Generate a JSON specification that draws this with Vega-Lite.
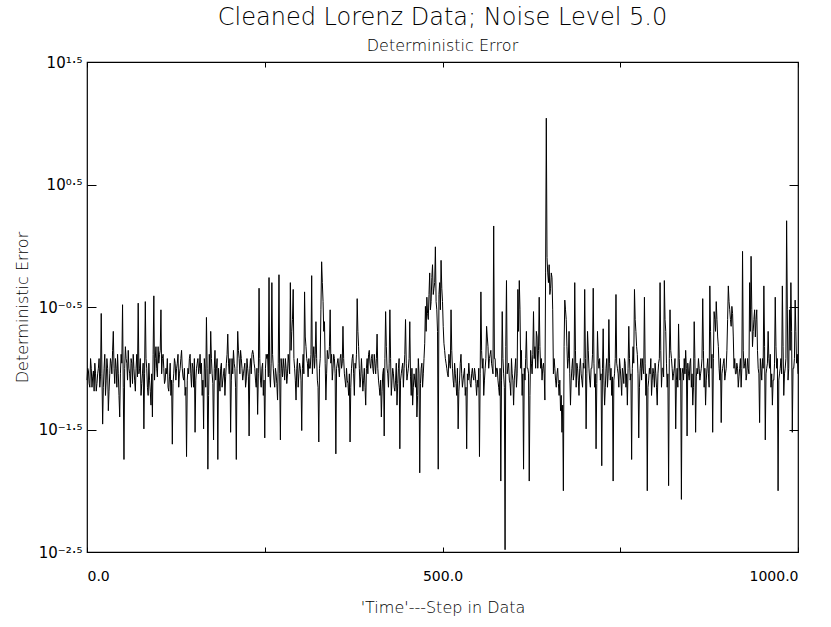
{
"$schema": "https://vega.github.io/schema/vega-lite/v6.json",
"width": 711, "height": 490,
"autosize": "none",
"padding": {"left": 87, "top": 62, "right": 33, "bottom": 75},
"background": "white",
"config": {"view": {"stroke": "black", "strokeWidth": 1.2}, "font": "DejaVu Sans"},
"title": {"text": "Cleaned Lorenz Data; Noise Level 5.0", "subtitle": "Deterministic Error", "anchor": "middle", "frame": "group", "fontSize": 24, "fontWeight": 300, "color": "black", "subtitleFontSize": 16, "subtitleFontWeight": 300, "subtitleColor": "black", "subtitlePadding": 8, "offset": 1},
"data": {"values": [
{"t":0,"e":0.08},{"t":2,"e":0.095},{"t":4,"e":0.07},{"t":6,"e":0.1},{"t":8,"e":0.085},{"t":10,"e":0.065},{"t":12,"e":0.09},{"t":14,"e":0.075},{"t":16,"e":0.1},{"t":18,"e":0.07},
{"t":20,"e":0.28},{"t":22,"e":0.035},{"t":24,"e":0.1},{"t":26,"e":0.06},{"t":28,"e":0.12},{"t":30,"e":0.045},{"t":32,"e":0.09},{"t":34,"e":0.11},{"t":36,"e":0.14},{"t":38,"e":0.1},
{"t":40,"e":0.12},{"t":42,"e":0.07},{"t":44,"e":0.09},{"t":46,"e":0.04},{"t":48,"e":0.13},{"t":50,"e":0.33},{"t":52,"e":0.018},{"t":54,"e":0.15},{"t":56,"e":0.11},{"t":58,"e":0.14},
{"t":60,"e":0.09},{"t":62,"e":0.12},{"t":64,"e":0.075},{"t":66,"e":0.1},{"t":68,"e":0.065},{"t":70,"e":0.13},{"t":72,"e":0.34},{"t":74,"e":0.1},{"t":76,"e":0.06},{"t":78,"e":0.09},
{"t":80,"e":0.032},{"t":82,"e":0.35},{"t":84,"e":0.1},{"t":86,"e":0.06},{"t":88,"e":0.08},{"t":90,"e":0.05},{"t":92,"e":0.04},{"t":94,"e":0.39},{"t":96,"e":0.12},{"t":98,"e":0.1},
{"t":100,"e":0.15},{"t":102,"e":0.13},{"t":104,"e":0.3},{"t":106,"e":0.12},{"t":108,"e":0.1},{"t":110,"e":0.08},{"t":112,"e":0.09},{"t":114,"e":0.07},{"t":116,"e":0.085},{"t":118,"e":0.06},
{"t":120,"e":0.024},{"t":122,"e":0.09},{"t":124,"e":0.11},{"t":126,"e":0.1},{"t":128,"e":0.13},{"t":130,"e":0.09},{"t":132,"e":0.12},{"t":134,"e":0.1},{"t":136,"e":0.08},{"t":138,"e":0.06},
{"t":140,"e":0.019},{"t":142,"e":0.1},{"t":144,"e":0.12},{"t":146,"e":0.09},{"t":148,"e":0.11},{"t":150,"e":0.07},{"t":152,"e":0.03},{"t":154,"e":0.1},{"t":156,"e":0.12},{"t":158,"e":0.1},
{"t":160,"e":0.09},{"t":162,"e":0.06},{"t":164,"e":0.032},{"t":166,"e":0.1},{"t":168,"e":0.26},{"t":170,"e":0.015},{"t":172,"e":0.13},{"t":174,"e":0.2},{"t":176,"e":0.09},{"t":178,"e":0.026},
{"t":180,"e":0.14},{"t":182,"e":0.1},{"t":184,"e":0.018},{"t":186,"e":0.08},{"t":188,"e":0.1},{"t":190,"e":0.07},{"t":192,"e":0.09},{"t":194,"e":0.06},{"t":196,"e":0.11},{"t":198,"e":0.19},
{"t":200,"e":0.09},{"t":202,"e":0.03},{"t":204,"e":0.12},{"t":206,"e":0.14},{"t":208,"e":0.1},{"t":210,"e":0.018},{"t":212,"e":0.2},{"t":214,"e":0.12},{"t":216,"e":0.14},{"t":218,"e":0.1},
{"t":220,"e":0.09},{"t":222,"e":0.11},{"t":224,"e":0.08},{"t":226,"e":0.1},{"t":228,"e":0.028},{"t":230,"e":0.12},{"t":232,"e":0.13},{"t":234,"e":0.13},{"t":236,"e":0.1},{"t":238,"e":0.07},
{"t":240,"e":0.042},{"t":242,"e":0.45},{"t":244,"e":0.08},{"t":246,"e":0.1},{"t":248,"e":0.06},{"t":250,"e":0.027},{"t":252,"e":0.13},{"t":254,"e":0.13},{"t":256,"e":0.55},{"t":258,"e":0.07},
{"t":260,"e":0.5},{"t":262,"e":0.1},{"t":264,"e":0.07},{"t":266,"e":0.09},{"t":268,"e":0.055},{"t":270,"e":0.58},{"t":272,"e":0.026},{"t":274,"e":0.1},{"t":276,"e":0.12},{"t":278,"e":0.08},
{"t":280,"e":0.1},{"t":282,"e":0.09},{"t":284,"e":0.11},{"t":286,"e":0.5},{"t":288,"e":0.2},{"t":290,"e":0.44},{"t":292,"e":0.1},{"t":294,"e":0.055},{"t":296,"e":0.12},{"t":298,"e":0.09},
{"t":300,"e":0.1},{"t":302,"e":0.031},{"t":304,"e":0.13},{"t":306,"e":0.42},{"t":308,"e":0.15},{"t":310,"e":0.11},{"t":312,"e":0.12},{"t":314,"e":0.1},{"t":316,"e":0.57},{"t":318,"e":0.12},
{"t":320,"e":0.1},{"t":322,"e":0.24},{"t":324,"e":0.08},{"t":326,"e":0.025},{"t":328,"e":0.12},{"t":330,"e":0.74},{"t":332,"e":0.35},{"t":334,"e":0.24},{"t":336,"e":0.055},{"t":338,"e":0.14},
{"t":340,"e":0.12},{"t":342,"e":0.3},{"t":344,"e":0.13},{"t":346,"e":0.1},{"t":348,"e":0.12},{"t":350,"e":0.02},{"t":352,"e":0.11},{"t":354,"e":0.1},{"t":356,"e":0.12},{"t":358,"e":0.1},
{"t":360,"e":0.22},{"t":362,"e":0.09},{"t":364,"e":0.07},{"t":366,"e":0.08},{"t":368,"e":0.06},{"t":370,"e":0.025},{"t":372,"e":0.1},{"t":374,"e":0.13},{"t":376,"e":0.06},{"t":378,"e":0.1},
{"t":380,"e":0.37},{"t":382,"e":0.15},{"t":384,"e":0.07},{"t":386,"e":0.12},{"t":388,"e":0.065},{"t":390,"e":0.1},{"t":392,"e":0.05},{"t":394,"e":0.12},{"t":396,"e":0.13},{"t":398,"e":0.11},
{"t":400,"e":0.12},{"t":402,"e":0.1},{"t":404,"e":0.13},{"t":406,"e":0.09},{"t":408,"e":0.19},{"t":410,"e":0.08},{"t":412,"e":0.06},{"t":414,"e":0.04},{"t":416,"e":0.09},{"t":418,"e":0.028},
{"t":420,"e":0.29},{"t":422,"e":0.1},{"t":424,"e":0.07},{"t":426,"e":0.3},{"t":428,"e":0.06},{"t":430,"e":0.1},{"t":432,"e":0.07},{"t":434,"e":0.08},{"t":436,"e":0.05},{"t":438,"e":0.1},
{"t":440,"e":0.022},{"t":442,"e":0.09},{"t":444,"e":0.11},{"t":446,"e":0.1},{"t":448,"e":0.25},{"t":450,"e":0.08},{"t":452,"e":0.1},{"t":454,"e":0.24},{"t":456,"e":0.06},{"t":458,"e":0.05},
{"t":460,"e":0.09},{"t":462,"e":0.07},{"t":464,"e":0.04},{"t":466,"e":0.12},{"t":468,"e":0.014},{"t":470,"e":0.1},{"t":472,"e":0.07},{"t":474,"e":0.12},{"t":476,"e":0.32},{"t":478,"e":0.38},
{"t":480,"e":0.25},{"t":482,"e":0.6},{"t":484,"e":0.35},{"t":486,"e":0.7},{"t":488,"e":0.45},{"t":490,"e":0.98},{"t":492,"e":0.3},{"t":494,"e":0.015},{"t":496,"e":0.5},{"t":498,"e":0.76},
{"t":500,"e":0.35},{"t":502,"e":0.16},{"t":504,"e":0.12},{"t":506,"e":0.1},{"t":508,"e":0.085},{"t":510,"e":0.11},{"t":512,"e":0.3},{"t":514,"e":0.1},{"t":516,"e":0.07},{"t":518,"e":0.09},
{"t":520,"e":0.06},{"t":522,"e":0.032},{"t":524,"e":0.08},{"t":526,"e":0.13},{"t":528,"e":0.07},{"t":530,"e":0.09},{"t":532,"e":0.06},{"t":534,"e":0.022},{"t":536,"e":0.08},{"t":538,"e":0.09},
{"t":540,"e":0.07},{"t":542,"e":0.1},{"t":544,"e":0.08},{"t":546,"e":0.09},{"t":548,"e":0.06},{"t":550,"e":0.07},{"t":552,"e":0.019},{"t":554,"e":0.42},{"t":556,"e":0.1},{"t":558,"e":0.06},
{"t":560,"e":0.1},{"t":562,"e":0.22},{"t":564,"e":0.15},{"t":566,"e":0.12},{"t":568,"e":0.14},{"t":570,"e":0.1},{"t":572,"e":1.45},{"t":574,"e":0.12},{"t":576,"e":0.1},{"t":578,"e":0.08},
{"t":580,"e":0.06},{"t":582,"e":0.012},{"t":584,"e":0.29},{"t":586,"e":0.09},{"t":588,"e":0.0033},{"t":590,"e":0.52},{"t":592,"e":0.1},{"t":594,"e":0.08},{"t":596,"e":0.06},{"t":598,"e":0.09},
{"t":600,"e":0.05},{"t":602,"e":0.1},{"t":604,"e":0.07},{"t":606,"e":0.44},{"t":608,"e":0.52},{"t":610,"e":0.1},{"t":612,"e":0.06},{"t":614,"e":0.015},{"t":616,"e":0.08},{"t":618,"e":0.2},
{"t":620,"e":0.1},{"t":622,"e":0.012},{"t":624,"e":0.14},{"t":626,"e":0.09},{"t":628,"e":0.29},{"t":630,"e":0.15},{"t":632,"e":0.2},{"t":634,"e":0.1},{"t":636,"e":0.38},{"t":638,"e":0.1},
{"t":640,"e":0.08},{"t":642,"e":0.11},{"t":644,"e":0.055},{"t":646,"e":11},{"t":648,"e":0.6},{"t":650,"e":0.7},{"t":652,"e":0.45},{"t":654,"e":0.55},{"t":656,"e":0.09},{"t":658,"e":0.1},
{"t":660,"e":0.07},{"t":662,"e":0.1},{"t":664,"e":0.06},{"t":666,"e":0.045},{"t":668,"e":0.03},{"t":670,"e":0.01},{"t":672,"e":0.36},{"t":674,"e":0.25},{"t":676,"e":0.1},{"t":678,"e":0.2},
{"t":680,"e":0.05},{"t":682,"e":0.1},{"t":684,"e":0.08},{"t":686,"e":0.5},{"t":688,"e":0.07},{"t":690,"e":0.1},{"t":692,"e":0.06},{"t":694,"e":0.12},{"t":696,"e":0.08},{"t":698,"e":0.11},
{"t":700,"e":0.44},{"t":702,"e":0.032},{"t":704,"e":0.2},{"t":706,"e":0.1},{"t":708,"e":0.07},{"t":710,"e":0.1},{"t":712,"e":0.45},{"t":714,"e":0.07},{"t":716,"e":0.022},{"t":718,"e":0.2},
{"t":720,"e":0.1},{"t":722,"e":0.08},{"t":724,"e":0.016},{"t":726,"e":0.21},{"t":728,"e":0.05},{"t":730,"e":0.1},{"t":732,"e":0.07},{"t":734,"e":0.25},{"t":736,"e":0.08},{"t":738,"e":0.06},
{"t":740,"e":0.012},{"t":742,"e":0.09},{"t":744,"e":0.4},{"t":746,"e":0.1},{"t":748,"e":0.07},{"t":750,"e":0.1},{"t":752,"e":0.06},{"t":754,"e":0.09},{"t":756,"e":0.12},{"t":758,"e":0.07},
{"t":760,"e":0.05},{"t":762,"e":0.22},{"t":764,"e":0.08},{"t":766,"e":0.018},{"t":768,"e":0.15},{"t":770,"e":0.44},{"t":772,"e":0.2},{"t":774,"e":0.13},{"t":776,"e":0.027},{"t":778,"e":0.1},
{"t":780,"e":0.08},{"t":782,"e":0.1},{"t":784,"e":0.38},{"t":786,"e":0.06},{"t":788,"e":0.01},{"t":790,"e":0.08},{"t":792,"e":0.09},{"t":794,"e":0.06},{"t":796,"e":0.1},{"t":798,"e":0.07},
{"t":800,"e":0.09},{"t":802,"e":0.05},{"t":804,"e":0.11},{"t":806,"e":0.5},{"t":808,"e":0.07},{"t":810,"e":0.1},{"t":812,"e":0.52},{"t":814,"e":0.2},{"t":816,"e":0.07},{"t":818,"e":0.011},
{"t":820,"e":0.3},{"t":822,"e":0.12},{"t":824,"e":0.08},{"t":826,"e":0.1},{"t":828,"e":0.032},{"t":830,"e":0.1},{"t":832,"e":0.23},{"t":834,"e":0.08},{"t":836,"e":0.0085},{"t":838,"e":0.1},
{"t":840,"e":0.12},{"t":842,"e":0.14},{"t":844,"e":0.028},{"t":846,"e":0.09},{"t":848,"e":0.11},{"t":850,"e":0.07},{"t":852,"e":0.05},{"t":854,"e":0.24},{"t":856,"e":0.03},{"t":858,"e":0.1},
{"t":860,"e":0.12},{"t":862,"e":0.08},{"t":864,"e":0.1},{"t":866,"e":0.37},{"t":868,"e":0.07},{"t":870,"e":0.05},{"t":872,"e":0.1},{"t":874,"e":0.09},{"t":876,"e":0.47},{"t":878,"e":0.1},
{"t":880,"e":0.03},{"t":882,"e":0.29},{"t":884,"e":0.2},{"t":886,"e":0.25},{"t":888,"e":0.15},{"t":890,"e":0.08},{"t":892,"e":0.036},{"t":894,"e":0.1},{"t":896,"e":0.12},{"t":898,"e":0.09},
{"t":900,"e":0.14},{"t":902,"e":0.47},{"t":904,"e":0.3},{"t":906,"e":0.22},{"t":908,"e":0.28},{"t":910,"e":0.1},{"t":912,"e":0.09},{"t":914,"e":0.11},{"t":916,"e":0.07},{"t":918,"e":0.1},
{"t":920,"e":0.07},{"t":922,"e":0.9},{"t":924,"e":0.1},{"t":926,"e":0.12},{"t":928,"e":0.09},{"t":930,"e":0.1},{"t":932,"e":0.5},{"t":934,"e":0.82},{"t":936,"e":0.15},{"t":938,"e":0.25},
{"t":940,"e":0.18},{"t":942,"e":0.3},{"t":944,"e":0.1},{"t":946,"e":0.036},{"t":948,"e":0.1},{"t":950,"e":0.12},{"t":952,"e":0.47},{"t":954,"e":0.026},{"t":956,"e":0.1},{"t":958,"e":0.2},
{"t":960,"e":0.1},{"t":962,"e":0.07},{"t":964,"e":0.05},{"t":966,"e":0.08},{"t":968,"e":0.38},{"t":970,"e":0.1},{"t":972,"e":0.01},{"t":974,"e":0.09},{"t":976,"e":0.12},{"t":978,"e":0.47},
{"t":980,"e":0.06},{"t":982,"e":0.1},{"t":984,"e":1.6},{"t":986,"e":0.08},{"t":988,"e":0.3},{"t":990,"e":0.5},{"t":992,"e":0.03},{"t":994,"e":0.1},{"t":996,"e":0.36},{"t":998,"e":0.11},{"t":1000,"e":0.09},
{"t":1,"e":0.1},{"t":3,"e":0.075},{"t":5,"e":0.12},{"t":7,"e":0.07},{"t":9,"e":0.095},{"t":11,"e":0.11},{"t":13,"e":0.065},{"t":15,"e":0.09},{"t":17,"e":0.12},{"t":19,"e":0.085},
{"t":21,"e":0.09},{"t":23,"e":0.07},{"t":25,"e":0.13},{"t":27,"e":0.08},{"t":29,"e":0.1},{"t":31,"e":0.065},{"t":33,"e":0.12},{"t":35,"e":0.09},{"t":37,"e":0.2},{"t":39,"e":0.075},
{"t":41,"e":0.1},{"t":43,"e":0.13},{"t":45,"e":0.06},{"t":47,"e":0.09},{"t":49,"e":0.11},{"t":51,"e":0.07},{"t":53,"e":0.1},{"t":55,"e":0.12},{"t":57,"e":0.08},{"t":59,"e":0.1},
{"t":61,"e":0.07},{"t":63,"e":0.11},{"t":65,"e":0.13},{"t":67,"e":0.08},{"t":69,"e":0.1},{"t":71,"e":0.085},{"t":73,"e":0.09},{"t":75,"e":0.12},{"t":77,"e":0.075},{"t":79,"e":0.11},
{"t":81,"e":0.09},{"t":83,"e":0.12},{"t":85,"e":0.07},{"t":87,"e":0.11},{"t":89,"e":0.065},{"t":91,"e":0.09},{"t":93,"e":0.13},{"t":95,"e":0.08},{"t":97,"e":0.15},{"t":99,"e":0.085},
{"t":101,"e":0.11},{"t":103,"e":0.14},{"t":105,"e":0.09},{"t":107,"e":0.13},{"t":109,"e":0.075},{"t":111,"e":0.1},{"t":113,"e":0.12},{"t":115,"e":0.065},{"t":117,"e":0.11},{"t":119,"e":0.08},
{"t":121,"e":0.075},{"t":123,"e":0.12},{"t":125,"e":0.08},{"t":127,"e":0.11},{"t":129,"e":0.07},{"t":131,"e":0.1},{"t":133,"e":0.14},{"t":135,"e":0.085},{"t":137,"e":0.1},{"t":139,"e":0.07},
{"t":141,"e":0.08},{"t":143,"e":0.09},{"t":145,"e":0.13},{"t":147,"e":0.07},{"t":149,"e":0.1},{"t":151,"e":0.12},{"t":153,"e":0.08},{"t":155,"e":0.11},{"t":157,"e":0.09},{"t":159,"e":0.13},
{"t":161,"e":0.11},{"t":163,"e":0.08},{"t":165,"e":0.12},{"t":167,"e":0.07},{"t":169,"e":0.1},{"t":171,"e":0.06},{"t":173,"e":0.09},{"t":175,"e":0.12},{"t":177,"e":0.075},{"t":179,"e":0.1},
{"t":181,"e":0.08},{"t":183,"e":0.12},{"t":185,"e":0.1},{"t":187,"e":0.065},{"t":189,"e":0.11},{"t":191,"e":0.08},{"t":193,"e":0.1},{"t":195,"e":0.085},{"t":197,"e":0.13},{"t":199,"e":0.11},
{"t":201,"e":0.12},{"t":203,"e":0.08},{"t":205,"e":0.09},{"t":207,"e":0.11},{"t":209,"e":0.07},{"t":211,"e":0.1},{"t":213,"e":0.14},{"t":215,"e":0.09},{"t":217,"e":0.12},{"t":219,"e":0.08},
{"t":221,"e":0.1},{"t":223,"e":0.07},{"t":225,"e":0.12},{"t":227,"e":0.085},{"t":229,"e":0.1},{"t":231,"e":0.09},{"t":233,"e":0.14},{"t":235,"e":0.11},{"t":237,"e":0.08},{"t":239,"e":0.1},
{"t":241,"e":0.09},{"t":243,"e":0.12},{"t":245,"e":0.07},{"t":247,"e":0.11},{"t":249,"e":0.08},{"t":251,"e":0.1},{"t":253,"e":0.12},{"t":255,"e":0.085},{"t":257,"e":0.09},{"t":259,"e":0.11},
{"t":261,"e":0.13},{"t":263,"e":0.08},{"t":265,"e":0.1},{"t":267,"e":0.075},{"t":269,"e":0.11},{"t":271,"e":0.09},{"t":273,"e":0.12},{"t":275,"e":0.085},{"t":277,"e":0.1},{"t":279,"e":0.12},
{"t":281,"e":0.075},{"t":283,"e":0.13},{"t":285,"e":0.09},{"t":287,"e":0.14},{"t":289,"e":0.25},{"t":291,"e":0.12},{"t":293,"e":0.08},{"t":295,"e":0.1},{"t":297,"e":0.07},{"t":299,"e":0.11},
{"t":301,"e":0.08},{"t":303,"e":0.1},{"t":305,"e":0.09},{"t":307,"e":0.18},{"t":309,"e":0.12},{"t":311,"e":0.085},{"t":313,"e":0.1},{"t":315,"e":0.13},{"t":317,"e":0.09},{"t":319,"e":0.15},
{"t":321,"e":0.13},{"t":323,"e":0.12},{"t":325,"e":0.07},{"t":327,"e":0.1},{"t":329,"e":0.3},{"t":331,"e":0.5},{"t":333,"e":0.2},{"t":335,"e":0.11},{"t":337,"e":0.09},{"t":339,"e":0.12},
{"t":341,"e":0.15},{"t":343,"e":0.11},{"t":345,"e":0.08},{"t":347,"e":0.13},{"t":349,"e":0.09},{"t":351,"e":0.1},{"t":353,"e":0.12},{"t":355,"e":0.085},{"t":357,"e":0.13},{"t":359,"e":0.11},
{"t":361,"e":0.12},{"t":363,"e":0.08},{"t":365,"e":0.1},{"t":367,"e":0.075},{"t":369,"e":0.09},{"t":371,"e":0.07},{"t":373,"e":0.12},{"t":375,"e":0.09},{"t":377,"e":0.11},{"t":379,"e":0.13},
{"t":381,"e":0.2},{"t":383,"e":0.1},{"t":385,"e":0.085},{"t":387,"e":0.09},{"t":389,"e":0.08},{"t":391,"e":0.07},{"t":393,"e":0.1},{"t":395,"e":0.09},{"t":397,"e":0.14},{"t":399,"e":0.1},
{"t":401,"e":0.13},{"t":403,"e":0.09},{"t":405,"e":0.11},{"t":407,"e":0.12},{"t":409,"e":0.1},{"t":411,"e":0.07},{"t":413,"e":0.08},{"t":415,"e":0.065},{"t":417,"e":0.1},{"t":419,"e":0.12},
{"t":421,"e":0.15},{"t":423,"e":0.09},{"t":425,"e":0.11},{"t":427,"e":0.12},{"t":429,"e":0.08},{"t":431,"e":0.09},{"t":433,"e":0.065},{"t":435,"e":0.11},{"t":437,"e":0.075},{"t":439,"e":0.12},
{"t":441,"e":0.08},{"t":443,"e":0.1},{"t":445,"e":0.07},{"t":447,"e":0.13},{"t":449,"e":0.11},{"t":451,"e":0.09},{"t":453,"e":0.12},{"t":455,"e":0.085},{"t":457,"e":0.1},{"t":459,"e":0.07},
{"t":461,"e":0.08},{"t":463,"e":0.1},{"t":465,"e":0.06},{"t":467,"e":0.09},{"t":469,"e":0.075},{"t":471,"e":0.11},{"t":473,"e":0.09},{"t":475,"e":0.16},{"t":477,"e":0.2},{"t":479,"e":0.28},
{"t":481,"e":0.4},{"t":483,"e":0.3},{"t":485,"e":0.55},{"t":487,"e":0.4},{"t":489,"e":0.5},{"t":491,"e":0.35},{"t":493,"e":0.2},{"t":495,"e":0.4},{"t":497,"e":0.3},{"t":499,"e":0.45},
{"t":501,"e":0.22},{"t":503,"e":0.14},{"t":505,"e":0.11},{"t":507,"e":0.09},{"t":509,"e":0.13},{"t":511,"e":0.1},{"t":513,"e":0.14},{"t":515,"e":0.08},{"t":517,"e":0.11},{"t":519,"e":0.075},
{"t":521,"e":0.1},{"t":523,"e":0.065},{"t":525,"e":0.11},{"t":527,"e":0.09},{"t":529,"e":0.08},{"t":531,"e":0.1},{"t":533,"e":0.07},{"t":535,"e":0.09},{"t":537,"e":0.11},{"t":539,"e":0.075},
{"t":541,"e":0.09},{"t":543,"e":0.085},{"t":545,"e":0.1},{"t":547,"e":0.075},{"t":549,"e":0.08},{"t":551,"e":0.1},{"t":553,"e":0.09},{"t":555,"e":0.14},{"t":557,"e":0.12},{"t":559,"e":0.08},
{"t":561,"e":0.12},{"t":563,"e":0.18},{"t":565,"e":0.1},{"t":567,"e":0.13},{"t":569,"e":0.11},{"t":571,"e":0.09},{"t":573,"e":0.12},{"t":575,"e":0.085},{"t":577,"e":0.1},{"t":579,"e":0.07},
{"t":581,"e":0.1},{"t":583,"e":0.08},{"t":585,"e":0.12},{"t":587,"e":0.07},{"t":589,"e":0.15},{"t":591,"e":0.09},{"t":593,"e":0.11},{"t":595,"e":0.075},{"t":597,"e":0.12},{"t":599,"e":0.08},
{"t":601,"e":0.08},{"t":603,"e":0.12},{"t":605,"e":0.09},{"t":607,"e":0.2},{"t":609,"e":0.3},{"t":611,"e":0.14},{"t":613,"e":0.09},{"t":615,"e":0.1},{"t":617,"e":0.12},{"t":619,"e":0.1},
{"t":621,"e":0.09},{"t":623,"e":0.06},{"t":625,"e":0.11},{"t":627,"e":0.13},{"t":629,"e":0.12},{"t":631,"e":0.1},{"t":633,"e":0.18},{"t":635,"e":0.14},{"t":637,"e":0.15},{"t":639,"e":0.12},
{"t":641,"e":0.1},{"t":643,"e":0.09},{"t":645,"e":0.6},{"t":647,"e":0.8},{"t":649,"e":0.5},{"t":651,"e":0.4},{"t":653,"e":0.6},{"t":655,"e":0.3},{"t":657,"e":0.12},{"t":659,"e":0.08},
{"t":661,"e":0.09},{"t":663,"e":0.075},{"t":665,"e":0.08},{"t":667,"e":0.06},{"t":669,"e":0.05},{"t":671,"e":0.15},{"t":673,"e":0.3},{"t":675,"e":0.15},{"t":677,"e":0.12},{"t":679,"e":0.09},
{"t":681,"e":0.08},{"t":683,"e":0.12},{"t":685,"e":0.09},{"t":687,"e":0.14},{"t":689,"e":0.11},{"t":691,"e":0.08},{"t":693,"e":0.1},{"t":695,"e":0.09},{"t":697,"e":0.07},{"t":699,"e":0.1},
{"t":701,"e":0.12},{"t":703,"e":0.09},{"t":705,"e":0.14},{"t":707,"e":0.08},{"t":709,"e":0.1},{"t":711,"e":0.13},{"t":713,"e":0.11},{"t":715,"e":0.09},{"t":717,"e":0.075},{"t":719,"e":0.12},
{"t":721,"e":0.12},{"t":723,"e":0.09},{"t":725,"e":0.1},{"t":727,"e":0.08},{"t":729,"e":0.07},{"t":731,"e":0.12},{"t":733,"e":0.09},{"t":735,"e":0.11},{"t":737,"e":0.1},{"t":739,"e":0.085},
{"t":741,"e":0.08},{"t":743,"e":0.12},{"t":745,"e":0.11},{"t":747,"e":0.09},{"t":749,"e":0.12},{"t":751,"e":0.08},{"t":753,"e":0.1},{"t":755,"e":0.075},{"t":757,"e":0.11},{"t":759,"e":0.09},
{"t":761,"e":0.1},{"t":763,"e":0.12},{"t":765,"e":0.09},{"t":767,"e":0.1},{"t":769,"e":0.11},{"t":771,"e":0.25},{"t":773,"e":0.15},{"t":775,"e":0.09},{"t":777,"e":0.07},{"t":779,"e":0.12},
{"t":781,"e":0.12},{"t":783,"e":0.09},{"t":785,"e":0.11},{"t":787,"e":0.09},{"t":789,"e":0.07},{"t":791,"e":0.1},{"t":793,"e":0.12},{"t":795,"e":0.08},{"t":797,"e":0.09},{"t":799,"e":0.11},
{"t":801,"e":0.07},{"t":803,"e":0.09},{"t":805,"e":0.12},{"t":807,"e":0.14},{"t":809,"e":0.1},{"t":811,"e":0.085},{"t":813,"e":0.25},{"t":815,"e":0.11},{"t":817,"e":0.09},{"t":819,"e":0.12},
{"t":821,"e":0.14},{"t":823,"e":0.1},{"t":825,"e":0.09},{"t":827,"e":0.12},{"t":829,"e":0.08},{"t":831,"e":0.07},{"t":833,"e":0.12},{"t":835,"e":0.1},{"t":837,"e":0.09},{"t":839,"e":0.08},
{"t":841,"e":0.09},{"t":843,"e":0.1},{"t":845,"e":0.11},{"t":847,"e":0.08},{"t":849,"e":0.12},{"t":851,"e":0.09},{"t":853,"e":0.07},{"t":855,"e":0.12},{"t":857,"e":0.085},{"t":859,"e":0.09},
{"t":861,"e":0.1},{"t":863,"e":0.09},{"t":865,"e":0.12},{"t":867,"e":0.14},{"t":869,"e":0.1},{"t":871,"e":0.08},{"t":873,"e":0.12},{"t":875,"e":0.07},{"t":877,"e":0.2},{"t":879,"e":0.13},
{"t":881,"e":0.12},{"t":883,"e":0.25},{"t":885,"e":0.35},{"t":887,"e":0.18},{"t":889,"e":0.1},{"t":891,"e":0.12},{"t":893,"e":0.09},{"t":895,"e":0.11},{"t":897,"e":0.08},{"t":899,"e":0.1},
{"t":901,"e":0.25},{"t":903,"e":0.35},{"t":905,"e":0.25},{"t":907,"e":0.32},{"t":909,"e":0.18},{"t":911,"e":0.12},{"t":913,"e":0.09},{"t":915,"e":0.1},{"t":917,"e":0.085},{"t":919,"e":0.12},
{"t":921,"e":0.1},{"t":923,"e":0.14},{"t":925,"e":0.11},{"t":927,"e":0.08},{"t":929,"e":0.12},{"t":931,"e":0.09},{"t":933,"e":0.2},{"t":935,"e":0.3},{"t":937,"e":0.2},{"t":939,"e":0.3},
{"t":941,"e":0.25},{"t":943,"e":0.14},{"t":945,"e":0.09},{"t":947,"e":0.12},{"t":949,"e":0.08},{"t":951,"e":0.1},{"t":953,"e":0.15},{"t":955,"e":0.09},{"t":957,"e":0.11},{"t":959,"e":0.12},
{"t":961,"e":0.13},{"t":963,"e":0.09},{"t":965,"e":0.08},{"t":967,"e":0.11},{"t":969,"e":0.15},{"t":971,"e":0.12},{"t":973,"e":0.08},{"t":975,"e":0.1},{"t":977,"e":0.09},{"t":979,"e":0.15},
{"t":981,"e":0.09},{"t":983,"e":0.12},{"t":985,"e":0.3},{"t":987,"e":0.1},{"t":989,"e":0.14},{"t":991,"e":0.2},{"t":993,"e":0.1},{"t":995,"e":0.12},{"t":997,"e":0.2},{"t":999,"e":0.13}
]},
"layer": [
{"mark": {"type": "line", "color": "black", "strokeWidth": 1},
 "encoding": {
  "x": {"field": "t", "type": "quantitative", "scale": {"domain": [0, 1000], "nice": false},
   "axis": {"orient": "bottom", "values": [0, 250, 500, 750, 1000], "labelExpr": "datum.value % 500 === 0 ? format(datum.value, '.1f') : ''", "tickSize": -5, "tickColor": "black", "labelPadding": 22, "labelFontSize": 14, "labelColor": "black", "domain": false, "grid": false, "title": "'Time'---Step in Data", "titleFontSize": 16, "titleFontWeight": 300, "titleColor": "black", "titlePadding": 16}},
  "y": {"field": "e", "type": "quantitative", "scale": {"type": "log", "domain": [0.0031623, 31.623], "nice": false},
   "axis": {"orient": "left", "values": [0.0031623, 0.031623, 0.31623, 3.1623, 31.623], "labelExpr": "datum.value < 0.01 ? '10⁻²·⁵' : datum.value < 0.1 ? '10⁻¹·⁵' : datum.value < 1 ? '10⁻⁰·⁵' : datum.value < 10 ? '10⁰·⁵' : '10¹·⁵'", "tickSize": -9, "tickColor": "black", "labelPadding": 14, "labelFontSize": 15, "labelColor": "black", "domain": false, "grid": false, "title": "Deterministic Error", "titleFontSize": 16, "titleFontWeight": 300, "titleColor": "black", "titlePadding": 8}}
 }},
{"mark": {"type": "point", "opacity": 0},
 "encoding": {
  "x": {"field": "t", "type": "quantitative", "axis": {"orient": "top", "values": [0, 250, 500, 750, 1000], "labels": false, "tickSize": -5, "tickColor": "black", "domain": false, "grid": false, "title": null}},
  "y": {"field": "e", "type": "quantitative", "axis": {"orient": "right", "values": [0.0031623, 0.031623, 0.31623, 3.1623, 31.623], "labels": false, "tickSize": -9, "tickColor": "black", "domain": false, "grid": false, "title": null}}
 }}
],
"resolve": {"axis": {"x": "independent", "y": "independent"}}
}
